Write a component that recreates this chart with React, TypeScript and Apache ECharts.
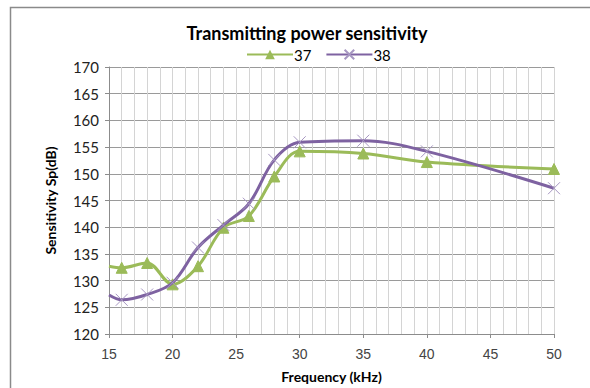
import React, { useEffect, useRef } from "react";
import * as echarts from "echarts";

const freq = [15, 16, 18, 20, 22, 24, 26, 28, 30, 35, 40, 50];
const s37 = [132.7, 132.4, 133.3, 129.3, 132.7, 139.9, 142.1, 149.5, 154.2, 153.8, 152.2, 150.9];
const s38 = [127.3, 126.4, 127.4, 129.6, 136.2, 140.4, 144.4, 152.6, 155.9, 156.2, 154.2, 147.3];
const seriesNames = ["37", "38"];
const titleText = "Transmitting power sensitivity";
const xTitle = "Frequency (kHz)";
const yTitle = "Sensitivity Sp(dB)";

const GREEN = "#9BBB59";
const PURPLE = "#7E62A1";
const PURPLE_MARK = "#A797C2";
const XSYM = "path://M0,0L10,10M10,0L0,10";

function toData(vals: number[]) {
  return freq.map((f, i) =>
    i === 0 ? { value: [f, vals[i]], symbol: "none" } : { value: [f, vals[i]] }
  );
}

export default function App() {
  const ref = useRef<HTMLDivElement>(null);
  useEffect(() => {
    if (!ref.current) return;
    const chart = echarts.init(ref.current, null, { renderer: "svg" });
    chart.setOption({
      animation: false,
      backgroundColor: "#ffffff",
      title: {
        text: titleText,
        left: 302,
        textAlign: "center",
        top: 19,
        textStyle: { fontFamily: "Lato", fontWeight: "bold", fontSize: 18, color: "#000" },
      },
      legend: {
        top: 42,
        left: 241,
        itemWidth: 46,
        itemHeight: 12,
        itemGap: 14,
        textStyle: { fontFamily: "Lato", fontSize: 15, color: "#000", padding: [0, 0, 0, -4] },
        data: [{ name: seriesNames[0] }, { name: seriesNames[1] }],
      },
      graphic: [
        {
          type: "rect",
          shape: { x: 10.5, y: 7.5, width: 620, height: 420 },
          style: { fill: "none", stroke: "#8a8a8a", lineWidth: 1.5 },
          silent: true,
        },
      ],
      grid: { left: 109, right: 36, top: 67, bottom: 51 },
      xAxis: {
        type: "value",
        min: 15,
        max: 50,
        interval: 5,
        name: xTitle,
        nameLocation: "middle",
        nameGap: 35,
        nameTextStyle: { fontFamily: "Lato", fontWeight: "bold", fontSize: 14, color: "#000" },
        axisLine: { show: true, lineStyle: { color: "#8c8c8c", width: 1 } },
        axisTick: { show: true, length: 4, lineStyle: { color: "#8c8c8c" } },
        axisLabel: { fontFamily: "Liberation Sans", fontSize: 14, color: "#444", margin: 13 },
        splitLine: { show: true, lineStyle: { color: "#d4d4d4", width: 1 } },
        minorTick: { show: false, splitNumber: 5 },
        minorSplitLine: { show: true, lineStyle: { color: "#d4d4d4", width: 1 } },
      },
      yAxis: {
        type: "value",
        min: 120,
        max: 170,
        interval: 5,
        name: yTitle,
        nameLocation: "middle",
        nameRotate: 90,
        nameGap: 52,
        nameTextStyle: { fontFamily: "Lato", fontWeight: "bold", fontSize: 14, color: "#000" },
        axisLine: { show: true, lineStyle: { color: "#8c8c8c", width: 1 } },
        axisTick: { show: true, length: 4, lineStyle: { color: "#8c8c8c" } },
        axisLabel: { fontFamily: "Lato", fontSize: 15, color: "#222", margin: 10 },
        splitLine: { show: true, lineStyle: { color: "#9a9a9a", width: 1 } },
      },
      series: [
        {
          name: seriesNames[0],
          type: "line",
          smooth: 0.35,
          data: toData(s37),
          symbol: "triangle",
          symbolSize: 11,
          showAllSymbol: true,
          lineStyle: { color: GREEN, width: 3 },
          itemStyle: { color: GREEN, borderColor: GREEN },
          z: 3,
        },
        {
          name: seriesNames[1],
          type: "line",
          smooth: 0.35,
          data: toData(s38),
          symbol: XSYM,
          symbolSize: 12,
          showAllSymbol: true,
          lineStyle: { color: PURPLE, width: 3 },
          itemStyle: { color: PURPLE_MARK, borderColor: PURPLE_MARK, borderWidth: 1 },
          z: 4,
        },
      ],
    });
    return () => chart.dispose();
  }, []);
  return (
    <div
      ref={ref}
      style={{ position: "fixed", left: 0, top: 0, width: 590, height: 388 }}
    />
  );
}
